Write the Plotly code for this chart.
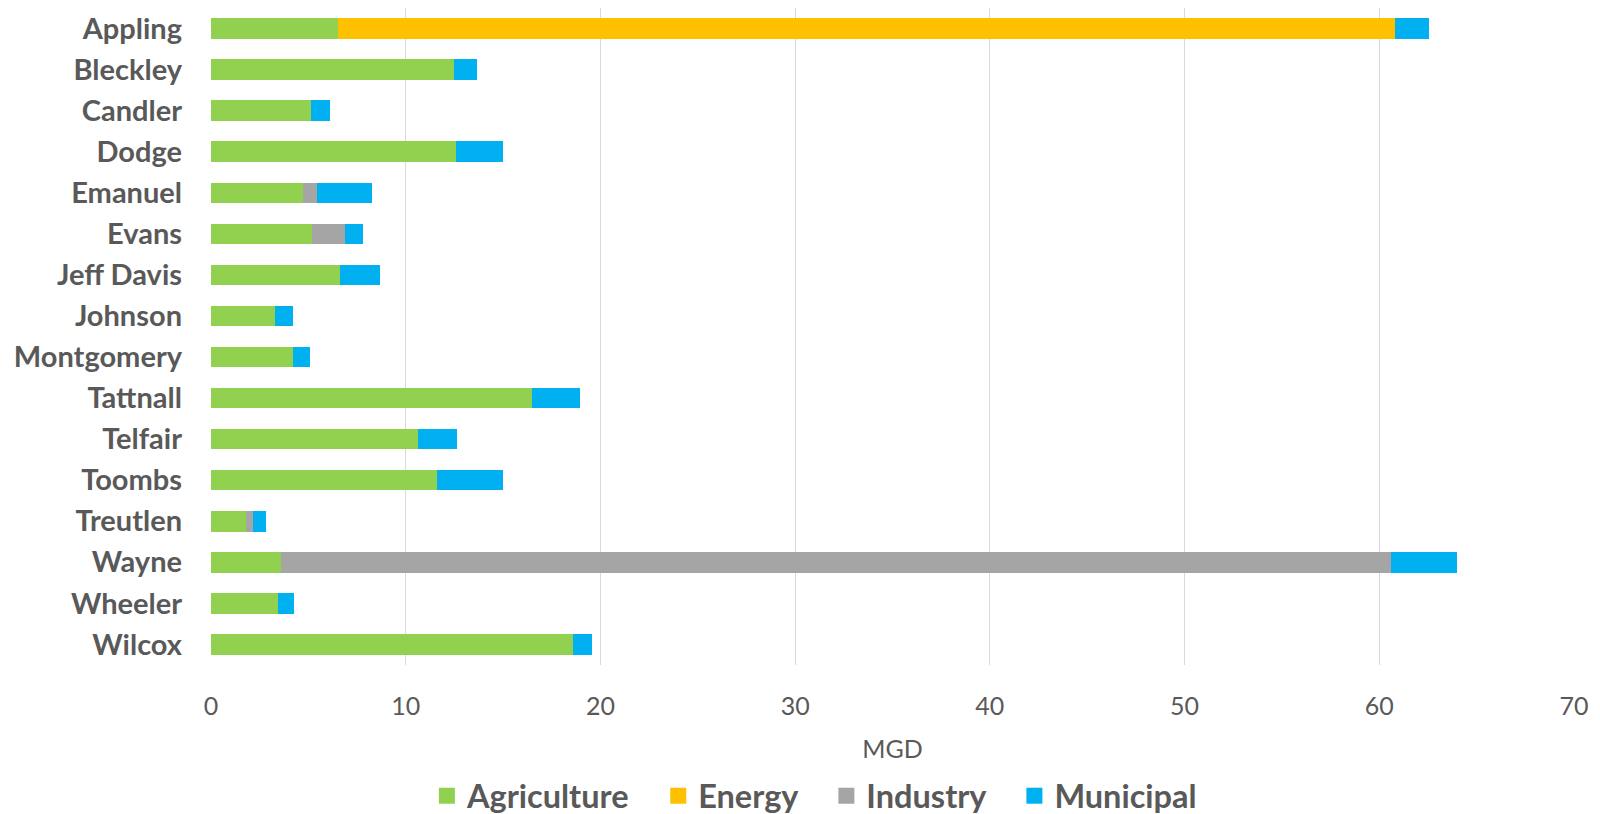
import plotly.graph_objects as go

counties = ["Appling", "Bleckley", "Candler", "Dodge", "Emanuel", "Evans", "Jeff Davis",
            "Johnson", "Montgomery", "Tattnall", "Telfair", "Toombs", "Treutlen", "Wayne",
            "Wheeler", "Wilcox"]
agriculture = [6.5, 12.5, 5.15, 12.6, 4.7, 5.2, 6.6, 3.3, 4.2, 16.5, 10.65, 11.6, 1.8, 3.6, 3.45, 18.6]
energy      = [54.3, 0, 0, 0, 0, 0, 0, 0, 0, 0, 0, 0, 0, 0, 0, 0]
industry    = [0, 0, 0, 0, 0.75, 1.7, 0, 0, 0, 0, 0, 0, 0.36, 57.0, 0, 0]
municipal   = [1.75, 1.15, 0.96, 2.38, 2.82, 0.91, 2.08, 0.93, 0.89, 2.45, 1.97, 3.39, 0.69, 3.4, 0.83, 0.95]

series = [("Agriculture", agriculture, "#92D050"),
          ("Energy", energy, "#FFC000"),
          ("Industry", industry, "#A5A5A5"),
          ("Municipal", municipal, "#00B0F0")]

fig = go.Figure()
for name, vals, col in series:
    fig.add_trace(go.Bar(y=counties, x=vals, name=name, orientation="h", showlegend=False,
                         marker=dict(color=col, line=dict(width=0))))
# legend entries with larger square swatches
pad = "\u00a0\u00a0\u00a0"
for i, (name, vals, col) in enumerate(series):
    label = name + (pad if i < len(series) - 1 else "")
    fig.add_trace(go.Scatter(x=[None], y=[None], mode="markers", name=label,
                             marker=dict(symbol="square", size=19, color=col)))

txt = "#595959"
fig.update_layout(
    barmode="stack",
    bargap=0.5,
    width=1600, height=814,
    margin=dict(l=211, r=26, t=8, b=149),
    paper_bgcolor="white", plot_bgcolor="white",
    font=dict(family="Lato, Open Sans, sans-serif", color=txt),
    xaxis=dict(range=[0, 70], dtick=10, showgrid=True, gridcolor="#D9D9D9", gridwidth=1,
               zeroline=False, showline=False,
               tickfont=dict(size=25, color=txt), ticklabelstandoff=24,
               title=dict(text="MGD", font=dict(size=25, color=txt), standoff=21)),
    yaxis=dict(autorange="reversed", showgrid=False, showline=False, zeroline=False,
               tickfont=dict(size=29, color=txt, family="Lato, sans-serif", weight="bold"),
               ticklabelstandoff=28),
    legend=dict(orientation="h", xref="container", yref="container", x=0.509, y=0.022,
                xanchor="center", yanchor="middle",
                font=dict(size=32.5, color=txt, weight="bold"), itemwidth=30,
                traceorder="normal"),
    showlegend=True,
)

fig.write_html("out.html")
